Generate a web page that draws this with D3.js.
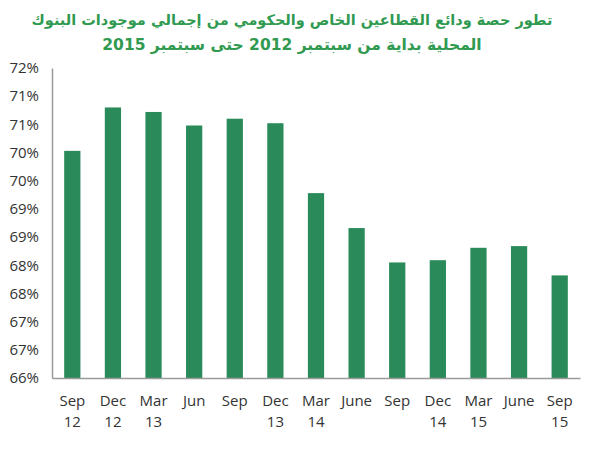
<!DOCTYPE html>
<html>
<head>
    <meta charset="utf-8">
    <script src="https://d3js.org/d3.v7.min.js"></script>
    <style>
        body { margin: 0; background: #fff; }
        svg { display: block; }
        .title { font-family: 'DejaVu Sans', sans-serif; font-weight: bold; fill: #2f9a50; }
        .tick text { font-family: 'Open Sans', 'Liberation Sans', sans-serif; font-size: 15px; fill: #333; }
    </style>
</head>
<body>
<div id="chart"></div>
<script>
    const periods = ["Sep", "Dec", "Mar", "Jun", "Sep", "Dec", "Mar", "June", "Sep", "Dec", "Mar", "June", "Sep"];
    const years = ["12", "12", "13", "", "", "13", "14", "", "", "14", "15", "", "15"];
    const shares = [70.03, 70.80, 70.72, 70.48, 70.60, 70.52, 69.28, 68.66, 68.05, 68.09, 68.31, 68.34, 67.82];
    const yTicks = [66, 66.5, 67, 67.5, 68, 68.5, 69, 69.5, 70, 70.5, 71, 71.5];
    const titleLines = [
        "تطور حصة ودائع القطاعين الخاص والحكومي من إجمالي موجودات البنوك",
        "المحلية بداية من سبتمبر  2012 حتى سبتمبر  2015"
    ];
    const titleSizes = [14.5, 15.5];

    const width = 600, height = 450;
    const margin = { top: 68, right: 20, bottom: 72, left: 52 };
    const innerW = width - margin.left - margin.right;
    const innerH = height - margin.top - margin.bottom;

    const svg = d3.select('#chart').append('svg')
        .attr('width', width)
        .attr('height', height);

    svg.selectAll('text.title')
        .data(titleLines)
        .join('text')
        .attr('class', 'title')
        .attr('x', 292)
        .attr('y', (d, i) => 25 + i * 25)
        .attr('text-anchor', 'middle')
        .attr('direction', 'rtl')
        .style('font-size', (d, i) => titleSizes[i] + 'px')
        .text(d => d);

    const idx = shares.map((d, i) => i);

    const x = d3.scaleBand()
        .domain(idx)
        .range([0, innerW])
        .paddingInner(0.6)
        .paddingOuter(0.3);

    const y = d3.scaleLinear()
        .domain([66, 71.5])
        .range([innerH, 0]);

    const g = svg.append('g')
        .attr('transform', `translate(${margin.left},${margin.top})`);

    g.selectAll('rect')
        .data(shares)
        .join('rect')
        .attr('x', (d, i) => x(i))
        .attr('y', d => y(d))
        .attr('width', x.bandwidth())
        .attr('height', d => innerH - y(d))
        .attr('fill', '#2a8a5a');

    const yAxis = g.append('g')
        .call(d3.axisLeft(y).tickValues(yTicks).tickSize(0).tickPadding(13)
            .tickFormat(d => Math.round(d) + '%'));
    yAxis.select('.domain').attr('stroke', '#9a9a9a').attr('stroke-width', 1.5);

    const xAxis = g.append('g')
        .attr('transform', `translate(0,${innerH})`)
        .call(d3.axisBottom(x).tickSize(0).tickPadding(17).tickFormat(i => periods[i]));
    xAxis.select('.domain').attr('stroke', '#9a9a9a').attr('stroke-width', 1.5);
    xAxis.selectAll('.tick text')
        .append('tspan')
        .attr('x', 0)
        .attr('dy', '1.45em')
        .text(i => years[i]);
</script>
</body>
</html>
